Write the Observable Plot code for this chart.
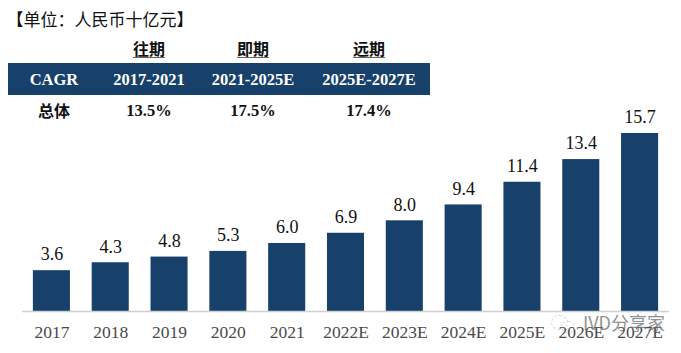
<!DOCTYPE html>
<html><head><meta charset="utf-8">
<script src="https://cdn.jsdelivr.net/npm/d3@7"></script>
<script src="https://cdn.jsdelivr.net/npm/@observablehq/plot@0.6"></script>
<style>
html,body{margin:0;padding:0;background:#fff;}
#page{position:relative;width:681px;height:353px;overflow:hidden;}
.t{position:absolute;white-space:nowrap;transform:translateX(-50%);line-height:20px;}
.serif{font-family:"Liberation Serif",serif;font-weight:700;font-size:16.5px;}
.cjk{font-family:"Noto Sans CJK SC",sans-serif;font-weight:500;font-size:16px;color:#111;}
#bar{position:absolute;left:8px;top:63px;width:422px;height:32px;background:#17406B;}
#chart{position:absolute;left:0;top:100px;}
#wm{position:absolute;left:583px;top:310px;font:18px/24px "Noto Sans CJK SC",sans-serif;color:#6d6d6d;opacity:.75;white-space:nowrap;}
.ring{position:absolute;border:1.5px dashed #d4d4d4;border-radius:50%;}
</style></head><body>
<div id="page"><div id="bar"></div><div id="chart"></div>
<div class="ring" style="left:551px;top:315px;width:15px;height:13px"></div>
<div class="ring" style="left:561px;top:321px;width:12px;height:10px"></div>
</div>
<script>
const years = ["2017","2018","2019","2020","2021","2022E","2023E","2024E","2025E","2026E","2027E"];
const values = [3.6,4.3,4.8,5.3,6.0,6.9,8.0,9.4,11.4,13.4,15.7];
const unitTitle = "【单位：人民币十亿元】";
const periods = ["往期","即期","远期"];
const cagrLabel = "CAGR";
const ranges = ["2017-2021","2021-2025E","2025E-2027E"];
const rowLabel = "总体";
const rates = ["13.5%","17.5%","17.4%"];
const watermark = "IVD分享家";
const navy = "#17406B";

const page = document.getElementById("page");
function put(text, cls, x, y, extra){
  const d = document.createElement("div");
  d.className = "t " + cls; d.textContent = text;
  d.style.left = x + "px"; d.style.top = y + "px";
  if (extra) Object.assign(d.style, extra);
  page.appendChild(d);
}
put(unitTitle, "cjk", 100, 9, {fontSize:"17px",fontWeight:"400"});
const cols = [149,253,369];
periods.forEach((p,i)=>put(p,"cjk",cols[i],38,{textDecoration:"underline",textDecorationColor:"#666",textUnderlineOffset:"2px",fontWeight:"700"}));
put(cagrLabel,"serif",54,70,{color:"#fff"});
ranges.forEach((r,i)=>put(r,"serif",cols[i],70,{color:"#fff"}));
put(rowLabel,"cjk",54,100,{fontWeight:"700"});
rates.forEach((r,i)=>put(r,"serif",cols[i],101,{color:"#111"}));

const data = years.map((year,i)=>({year,value:values[i]}));
const plot = Plot.plot({
  width:681, height:253,
  marginTop:0, marginLeft:22, marginRight:12, marginBottom:42,
  style:{background:"transparent",fontFamily:'"Liberation Serif",serif',fontSize:"17px"},
  x:{domain:years, paddingInner:0.37, paddingOuter:0.185, align:0.5, round:false, label:null},
  y:{domain:[0,15.7], range:[211,33], axis:null},
  marks:[
    Plot.axisX({tickSize:0,tickPadding:14,label:null,fontSize:17.5,color:"#4a4a4a",fill:"#4a4a4a"}),
    Plot.barY(data,{x:"year",y:"value",fill:navy}),
    Plot.ruleY([0],{stroke:"#d0d0d0",strokeWidth:1.5}),
    Plot.text(data,{x:"year",y:"value",text:d=>d.value.toFixed(1),dy:-16,fill:"#111",fontSize:18})
  ]
});
document.getElementById("chart").appendChild(plot);
const wm = document.createElement("div");
wm.id = "wm"; wm.textContent = watermark; page.appendChild(wm);
</script></body></html>
